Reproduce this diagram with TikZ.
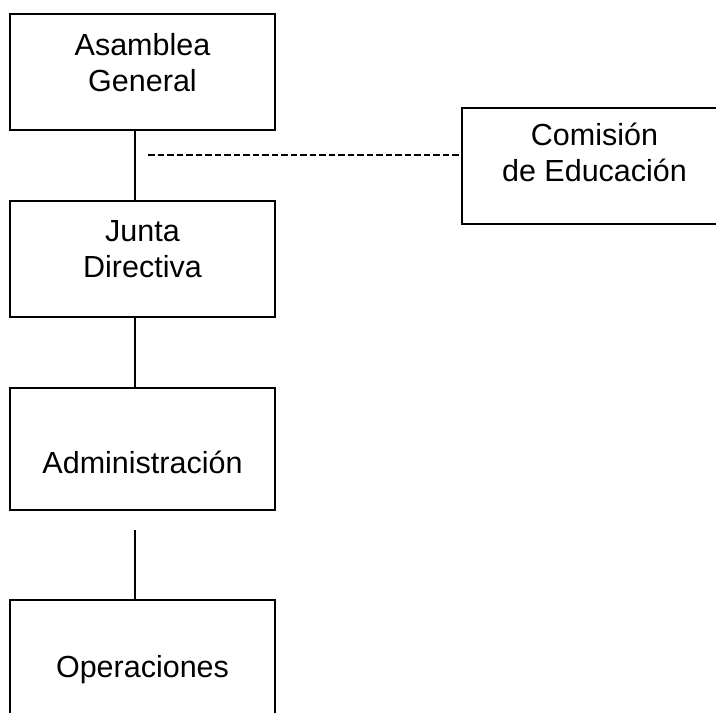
\documentclass[tikz,border=0pt]{standalone}
\usepackage{fontspec}
\setmainfont{Liberation Sans}
\begin{document}
\begin{tikzpicture}[x=1pt,y=-1pt,
  orgbox/.style={draw, line width=1.2pt, inner sep=0pt, font=\fontsize{30.5}{36.5}\selectfont},
  conn/.style={line width=1.3pt},
  dashconn/.style={line width=2.6pt, dash pattern=on 6.5pt off 3pt}]
\useasboundingbox (0,0) rectangle (716,713);
\clip (0,0) rectangle (716,713);
\node[orgbox] (AG) at (142.5,72) {\parbox[c][116pt][t]{265pt}{\centering\rule{0pt}{41pt}Asamblea\\General}};
\node[orgbox] (JD) at (142.5,259) {\parbox[c][116pt][t]{265pt}{\centering\rule{0pt}{40pt}Junta\\Directiva}};
\node[orgbox] (AD) at (142.5,449) {\parbox[c][122pt][t]{265pt}{\centering\rule{0pt}{85pt}Administración}};
\node[orgbox] (OP) at (142.5,661) {\parbox[c][122pt][t]{265pt}{\centering\rule{0pt}{77pt}Operaciones}};
\node[orgbox] (CE) at (594.5,166) {\parbox[c][116pt][t]{265pt}{\centering\rule{0pt}{37pt}Comisión\\de Educación}};
\coordinate (sp) at (135,0);
\coordinate (ds) at (148,155);
\coordinate (ac) at (135,530);
\draw[conn] (AG.south -| sp) -- (JD.north -| sp);
\draw[conn] (JD.south -| sp) -- (AD.north -| sp);
\draw[conn] (ac) -- (OP.north -| ac);
\draw[dashconn] (ds) -- (ds -| CE.west);
\end{tikzpicture}
\end{document}
